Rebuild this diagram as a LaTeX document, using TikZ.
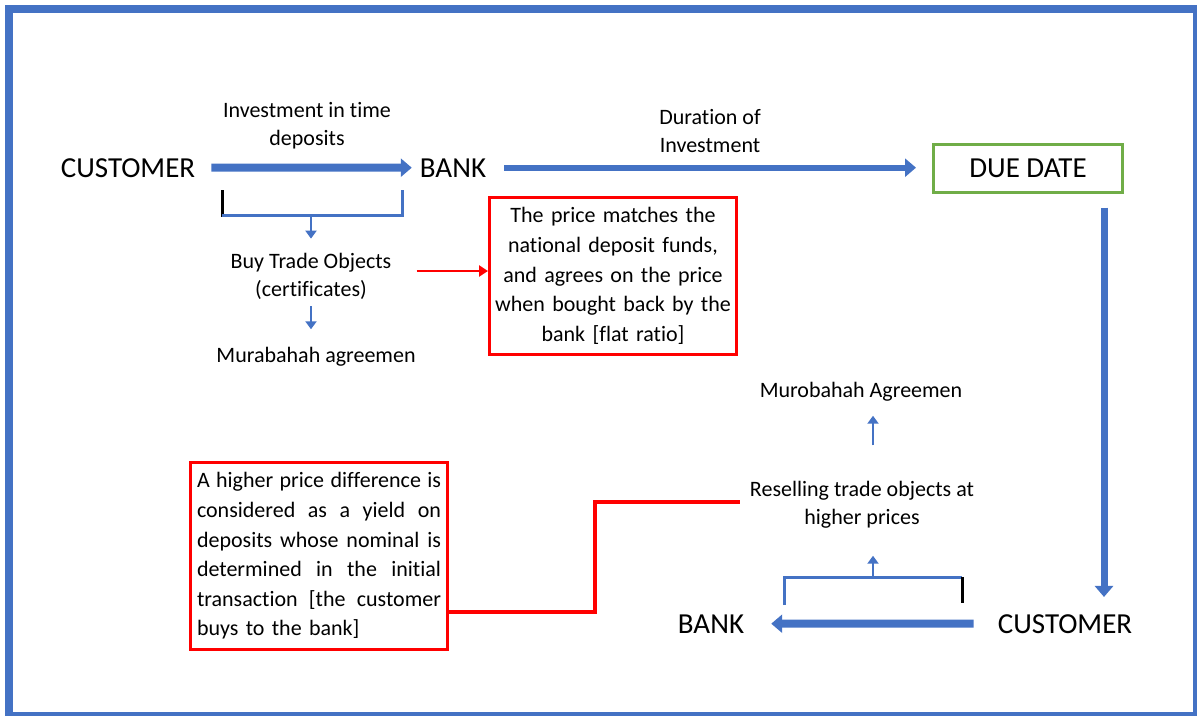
\documentclass[tikz,border=0pt]{standalone}
\usepackage{fontspec}
\setmainfont{Carlito}[Ligatures=NoCommon]
\usetikzlibrary{arrows.meta}

\definecolor{mblue}{HTML}{4472C4}
\definecolor{mgreen}{HTML}{70AD47}
\definecolor{mred}{HTML}{FF0000}

\newcommand{\jline}[1]{{\spaceskip=0.226em plus 2em minus 0.08em\makebox[244pt][s]{#1}}}

\tikzset{
	party/.style={font=\fontsize{29}{34}\selectfont, inner sep=8pt},
	lbl/.style={font=\fontsize{22}{28}\selectfont, align=center, inner sep=2pt},
	note/.style={draw=mred, line width=3pt, font=\fontsize{22}{29.6}\selectfont, inner sep=0pt},
	blockarrow/.style={draw=mblue, line width=#1, arrows={-{Triangle[length=11pt,width=18pt]}}},
	smallarrow/.style={draw=mblue, line width=2.6pt, arrows={-{Triangle[length=8pt,width=11pt]}}},
	redarrow/.style={draw=mred, line width=2.8pt, arrows={-{Triangle[length=9pt,width=11pt]}}},
	redline/.style={draw=mred, line width=3.2pt},
	brace/.style={line width=3pt}
}

\begin{document}
\begin{tikzpicture}[x=1pt, y=-1pt]

	\useasboundingbox (0,0) rectangle (1197,715);
	\draw [mblue, line width=8pt] (9,9) rectangle (1197,716);

	\node [party, anchor=base] (cust1) at (128,177) {CUSTOMER};
	\node [party, anchor=base] (bank1) at (453,177) {BANK};
	\node [party, draw=mgreen, line width=3pt, minimum width=189pt, minimum height=48pt] (due) at (1028,168) {DUE DATE};
	\node [party, anchor=base] (cust2) at (1065,633) {CUSTOMER};
	\node [party, anchor=base] (bank2) at (711,633) {BANK};

	\node [lbl] (invest) at (307,126) {Investment in time\\deposits};
	\node [lbl] (duration) at (710,131) {Duration of\\Investment};
	\node [lbl] (buy) at (311,276) {Buy Trade Objects\\(certificates)};
	\node [lbl] (murab) at (316,357) {Murabahah agreemen};
	\node [lbl] (murob) at (861,392) {Murobahah Agreemen};
	\node [lbl] (resell) at (862,505) {Reselling trade objects at\\higher prices};

	\node [note, minimum width=247pt, minimum height=157pt, text width=240pt, align=center] (price) at (613,276)
		{The price matches the\\national deposit funds,\\and agrees on the price\\when bought back by the\\bank [flat ratio]};
	\node [note, minimum width=257pt, minimum height=187pt, text width=244pt, align=left] (yield) at (319,556)
		{\jline{A higher price difference is}\\\jline{considered as a yield on}\\\jline{deposits whose nominal is}\\\jline{determined in the initial}\\\jline{transaction [the customer}\\buys to the bank]};

	\draw [blockarrow=8pt] ([xshift=8pt]cust1.east) -- (bank1.west);
	\draw [blockarrow=6pt] ([xshift=10pt]bank1.east) -- ([xshift=-16pt]bank1.east -| due.west);
	\draw [blockarrow=7pt] ([xshift=76pt,yshift=-14pt]due.south) -- ([xshift=39pt,yshift=9pt]cust2.north);
	\draw [blockarrow=8pt] ([xshift=-16pt]cust2.west) -- ([xshift=19pt]bank2.east);

	\draw [brace, black] (222,190) -- (222,217);
	\draw [brace, mblue] (222,215) -- (402,215) -- (402,190);
	\coordinate (fork1) at (311,215);
	\draw [smallarrow, shorten >=12pt] (fork1) -- (fork1 |- buy.north);
	\draw [smallarrow, shorten <=5pt, shorten >=16pt] (buy.south) -- (buy.south |- murab.north);

	\draw [brace, mblue] (784,605) -- (784,577) -- (962,577);
	\draw [brace, black] (962,577) -- (962,603);
	\coordinate (fork2) at (873,577);
	\draw [smallarrow, shorten >=25pt] (fork2) -- (fork2 |- resell.south);
	\draw [smallarrow, shorten <=34pt, shorten >=12pt] ([xshift=11pt]resell.north) -- ([xshift=12pt]murob.south);

	\draw [redarrow] ([xshift=23pt,yshift=5pt]buy.east) -- ([yshift=5pt]price.west);
	\coordinate (elbow) at (595,502);
	\draw [redline, shorten >=8pt] ([yshift=-56pt]yield.east) -| (elbow) -- (elbow -| resell.west);

\end{tikzpicture}
\end{document}
